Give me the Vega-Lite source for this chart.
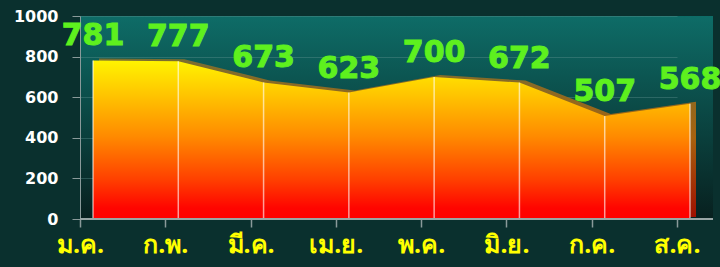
{
  "$schema": "https://vega.github.io/schema/vega-lite/v6.json",
  "width": 633,
  "height": 203,
  "autosize": {"type": "none"},
  "padding": {"left": 80, "top": 16, "right": 7, "bottom": 48},
  "background": "#0a302e",
  "config": {
    "view": {
      "stroke": null,
      "fill": {"gradient": "linear", "x1": 0, "y1": 0, "x2": 0, "y2": 1,
        "stops": [{"offset": 0, "color": "#0e6c67"}, {"offset": 0.6, "color": "#0a3f3c"}, {"offset": 1, "color": "#08201f"}]}
    },
    "font": "DejaVu Sans"
  },
  "data": {
    "values": [
      {"month": "ม.ค.", "value": 781},
      {"month": "ก.พ.", "value": 777},
      {"month": "มี.ค.", "value": 673},
      {"month": "เม.ย.", "value": 623},
      {"month": "พ.ค.", "value": 700},
      {"month": "มิ.ย.", "value": 672},
      {"month": "ก.ค.", "value": 507},
      {"month": "ส.ค.", "value": 568}
    ]
  },
  "encoding": {
    "x": {
      "field": "month", "type": "ordinal", "sort": null,
      "scale": {"type": "point", "range": [0, 597], "padding": 0},
      "axis": {
        "title": null, "domain": false, "grid": false, "labelAngle": 0,
        "tickColor": "#8a9a9a", "tickSize": 8, "tickWidth": 1.5,
        "labelColor": "#ffff00", "labelFontSize": 25, "labelFontWeight": "bold",
        "labelPadding": 5, "labelFont": "Noto Sans"
      }
    },
    "y": {
      "field": "value", "type": "quantitative",
      "scale": {"domain": [0, 1000], "nice": false},
      "axis": {
        "title": null, "values": [0, 200, 400, 600, 800, 1000], "format": "d",
        "domainColor": "#8a9a9a", "tickColor": "#8a9a9a", "tickSize": 8,
        "labelColor": "#ffffff", "labelFontSize": 16, "labelFontWeight": "bold",
        "labelPadding": 14, "gridColor": "#6a9a98", "gridOpacity": 0.35
      }
    }
  },
  "layer": [
    {
      "mark": {
        "type": "area", "xOffset": 19, "yOffset": -2,
        "fill": {"gradient": "linear", "x1": 0, "y1": 0, "x2": 0, "y2": 1,
          "stops": [{"offset": 0, "color": "#7a6e30"}, {"offset": 0.5, "color": "#a8620e"}, {"offset": 1, "color": "#a01000"}]}
      }
    },
    {
      "mark": {
        "type": "area", "xOffset": 13,
        "fill": {"gradient": "linear", "x1": 0, "y1": 0, "x2": 0, "y2": 1,
          "stops": [{"offset": 0, "color": "#fff400"}, {"offset": 0.22, "color": "#ffc400"}, {"offset": 0.48, "color": "#ff8a00"}, {"offset": 0.75, "color": "#ff4000"}, {"offset": 0.93, "color": "#ff0500"}, {"offset": 1, "color": "#ff0000"}]}
      }
    },
    {
      "mark": {"type": "rule", "xOffset": 13, "color": "#ffffff", "opacity": 0.6, "strokeWidth": 1.5},
      "encoding": {"y2": {"datum": 0}}
    },
    {
      "mark": {"type": "rule", "color": "#9aa6a6", "strokeWidth": 1.5},
      "encoding": {"x": null, "y": {"datum": 0}}
    },
    {
      "mark": {"type": "text", "xOffset": 13, "dy": -15, "baseline": "alphabetic", "align": "center",
        "fontSize": 30, "fontWeight": "bold", "color": "#5ef01e", "stroke": "#5ef01e", "strokeWidth": 1},
      "encoding": {"text": {"field": "value", "type": "quantitative"}}
    }
  ]
}
